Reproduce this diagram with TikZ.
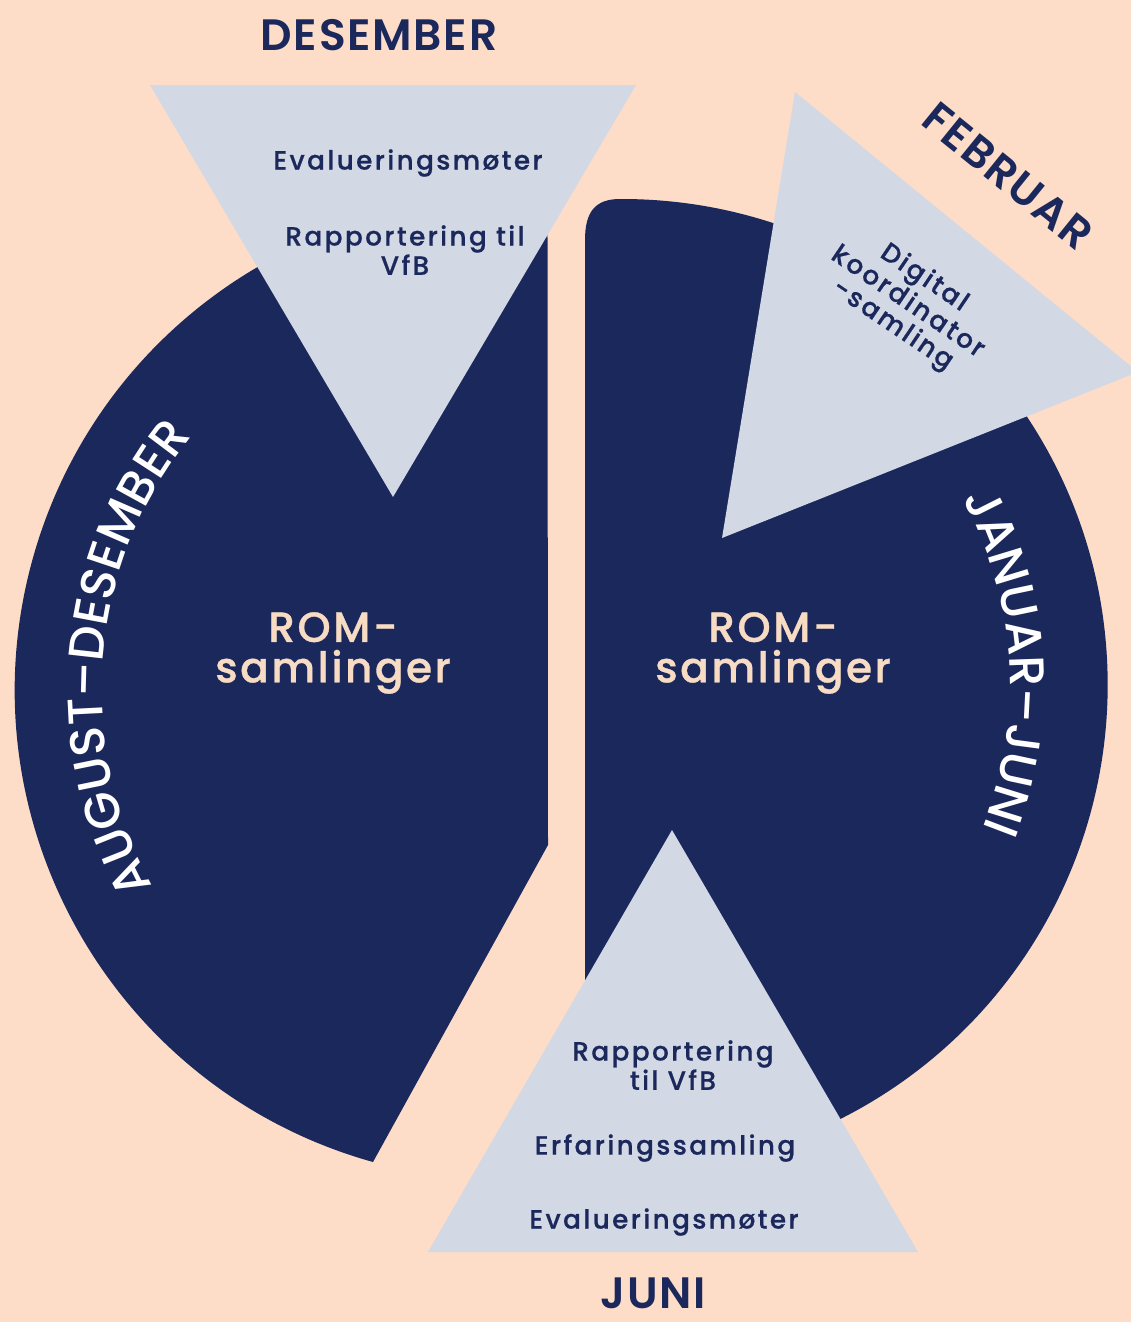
\documentclass[tikz,border=0pt]{standalone}
\usepackage{fontspec}
\setmainfont{Poppins}
\newfontfamily\medfont{Poppins Medium}
\newfontfamily\semispaced{Poppins SemiBold}[LetterSpace=4]
\newfontfamily\medspaced{Poppins Medium}[LetterSpace=9,FakeBold=0.6]
\newfontfamily\romspaced{Poppins Medium}[LetterSpace=6,FakeBold=0.8]
\usetikzlibrary{positioning,decorations.text}

\definecolor{peach}{HTML}{FDDCC8}
\definecolor{navy}{HTML}{1B285C}
\definecolor{mist}{HTML}{D3D8E5}
\definecolor{cream}{HTML}{F7DCC3}

\newcommand{\arcfont}{\medfont\fontsize{28}{30}\selectfont}

\tikzset{
  season/.style={fill=navy},
  event/.style={fill=mist},
  month/.style={font=\semispaced\fontsize{25}{27}\selectfont, text=navy},
  task/.style={font=\medspaced\fontsize{15}{15.5}\selectfont, text=navy, align=center},
  rom/.style={font=\romspaced\fontsize{24}{23}\selectfont, text=cream, align=center},
  arclabel/.style={decorate, decoration={text along path, text align=center, text color=white, text={|\arcfont|#1}}}
}

\begin{document}
\begin{tikzpicture}[x=0.02cm, y=-0.02cm]
\useasboundingbox[fill=peach] (0,0) rectangle (1131,1322);

\coordinate (leftc) at (505,690);
\coordinate (rightc) at (622,685);

\fill[season] (548,845) -- (373,1162) arc[start angle=105.6, end angle=275, radius=490] -- cycle;
\fill[season] (585,1170) -- (585,240) .. controls (585,212) and (595,199) .. (620,199)
  arc[start angle=-90.2, end angle=94.4, radius=486] -- cycle;

\fill[event] (150,85) -- (636,85) -- (393,497) -- cycle;
\fill[event] (795,92) -- (1138,372) -- (722,538) -- cycle;
\fill[event] (672,830) -- (918,1252) -- (428,1252) -- cycle;

\node[month] (desember) at (379,35) {DESEMBER};
\node[month, inner sep=0pt] (juni) at (653,1293) {JUNI};
\node[month, rotate=-39] (februar) at (1008,176) {FEBRUAR};

\node[task] (evalTop) at (408,163) {Evalueringsmøter};
\node[task] (rapTop) at (405,250) {Rapportering til\\VfB};
\node[task, rotate=-34] (digital) at (908,302) {Digital\\koordinator\\-samling};
\node[task] (rapBot) at (673,1065) {Rapportering\\til VfB};
\node[task] (erfaring) at (665,1148) {Erfaringssamling};
\node[task] (evalBot) at (664,1222) {Evalueringsmøter};

\node[rom] (romLeft) at (333,653) {ROM-\\samlinger};
\node[rom] (romRight) at (773,653) {ROM-\\samlinger};

\path[arclabel={AUGUST–DESEMBER}] (leftc) ++(140:403) arc[start angle=140, end angle=230, radius=403];
\path[arclabel={JANUAR–JUNI}] (rightc) ++(-38.5:388) arc[start angle=-38.5, end angle=31.5, radius=388];
\end{tikzpicture}
\end{document}
